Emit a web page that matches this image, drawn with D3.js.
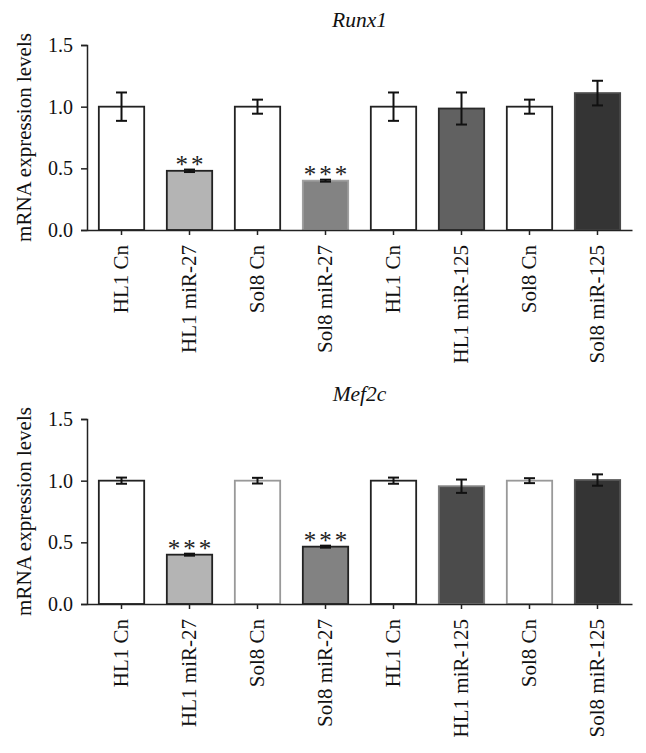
<!DOCTYPE html>
<html><head><meta charset="utf-8">
<script src="https://cdn.jsdelivr.net/npm/d3@7"></script>
<style>
body{margin:0;background:#fff;}
svg{display:block;font-family:"Liberation Serif","Times New Roman",serif;}
</style></head>
<body><svg id="c" width="646" height="753"></svg>
<script>
const categories = ["HL1 Cn","HL1 miR-27","Sol8 Cn","Sol8 miR-27","HL1 Cn ","HL1 miR-125","Sol8 Cn ","Sol8 miR-125"];
const categoryLabels = ["HL1 Cn","HL1 miR-27","Sol8 Cn","Sol8 miR-27","HL1 Cn","HL1 miR-125","Sol8 Cn","Sol8 miR-125"];
const runx1Values = [1.0, 0.48, 1.0, 0.40, 1.0, 0.985, 1.0, 1.11];
const runx1Errors = [0.115, 0.01, 0.057, 0.008, 0.115, 0.13, 0.057, 0.10];
const runx1Stars = ["", "**", "", "***", "", "", "", ""];
const mef2cValues = [1.0, 0.40, 1.0, 0.465, 1.0, 0.955, 1.0, 1.005];
const mef2cErrors = [0.025, 0.008, 0.023, 0.008, 0.025, 0.054, 0.02, 0.046];
const mef2cStars = ["", "***", "", "***", "", "", "", ""];
const yTicks = [0, 0.5, 1.0, 1.5];

const runx1Fill = ["#ffffff","#b4b4b4","#ffffff","#838383","#ffffff","#616161","#ffffff","#343434"];
const runx1Stroke = ["#222","#222","#222","#a0a0a0","#222","#2a2a2a","#222","#4a4a4a"];
const mef2cFill = ["#ffffff","#b4b4b4","#ffffff","#828282","#ffffff","#4b4b4b","#ffffff","#343434"];
const mef2cStroke = ["#222","#222","#999","#222","#222","#808080","#999","#555"];

const svg = d3.select("#c");

function panel(title, values, errors, stars, fills, strokes, top) {
  const x0 = 87, x1 = 632, yBase = top + 185, yTop = top;
  const x = d3.scaleBand().domain(categories).range([x0, x1]).paddingInner(0.333).paddingOuter(0.174);
  const y = d3.scaleLinear().domain([0, 1.5]).range([yBase, yTop]);
  const g = svg.append("g");

  g.append("text").attr("x", (x0 + x1) / 2).attr("y", top - 18)
    .attr("text-anchor", "middle").attr("font-style", "italic").attr("font-size", 21.5)
    .attr("fill", "#111").text(title);

  g.append("text").attr("transform", `translate(31,${(yTop + yBase) / 2}) rotate(-90)`)
    .attr("text-anchor", "middle").attr("font-size", 21).attr("fill", "#111")
    .text("mRNA expression levels");

  const data = categories.map((c, i) => ({c, v: values[i], e: errors[i], s: stars[i], f: fills[i], st: strokes[i]}));

  g.selectAll("rect.bar").data(data).join("rect").attr("class", "bar")
    .attr("x", d => x(d.c)).attr("width", x.bandwidth())
    .attr("y", d => y(d.v)).attr("height", d => y(0) - y(d.v))
    .attr("fill", d => d.f).attr("stroke", d => d.st).attr("stroke-width", 1.8);

  const eb = g.selectAll("g.err").data(data).join("g").attr("class", "err")
    .attr("stroke", "#111").attr("stroke-width", 2);
  const cx = d => x(d.c) + x.bandwidth() / 2;
  eb.append("line").attr("x1", cx).attr("x2", cx).attr("y1", d => y(d.v + d.e)).attr("y2", d => y(d.v - d.e));
  eb.append("line").attr("x1", d => cx(d) - 5.5).attr("x2", d => cx(d) + 5.5).attr("y1", d => y(d.v + d.e)).attr("y2", d => y(d.v + d.e));
  eb.append("line").attr("x1", d => cx(d) - 5.5).attr("x2", d => cx(d) + 5.5).attr("y1", d => y(d.v - d.e)).attr("y2", d => y(d.v - d.e));

  g.selectAll("text.star").data(data.filter(d => d.s)).join("text").attr("class", "star")
    .attr("x", d => cx(d) + 1.5).attr("y", d => y(d.v + d.e) + 3)
    .attr("text-anchor", "middle").attr("font-size", 25).attr("letter-spacing", 3)
    .attr("fill", "#222").text(d => d.s);

  const yAxis = d3.axisLeft(y).tickValues(yTicks).tickFormat(d3.format(".1f")).tickSize(6).tickPadding(8);
  const ya = g.append("g").attr("transform", `translate(${x0},0)`).call(yAxis);
  ya.selectAll("text").attr("font-size", 20).attr("fill", "#111").attr("font-family", "Liberation Serif");
  ya.selectAll("line,path").attr("stroke", "#222").attr("stroke-width", 1.5);

  const xAxis = d3.axisBottom(x).tickSize(5).tickSizeOuter(0).tickFormat((d, i) => categoryLabels[i]);
  const xa = g.append("g").attr("transform", `translate(0,${yBase})`).call(xAxis);
  xa.selectAll("line,path").attr("stroke", "#222").attr("stroke-width", 1.5);
  xa.selectAll("text").attr("font-size", 21).attr("fill", "#111").attr("font-family", "Liberation Serif")
    .attr("transform", "rotate(-90)").attr("text-anchor", "end")
    .attr("x", -15).attr("y", 0).attr("dy", "0.33em");
}

panel("Runx1", runx1Values, runx1Errors, runx1Stars, runx1Fill, runx1Stroke, 45);
panel("Mef2c", mef2cValues, mef2cErrors, mef2cStars, mef2cFill, mef2cStroke, 419);
</script></body></html>
